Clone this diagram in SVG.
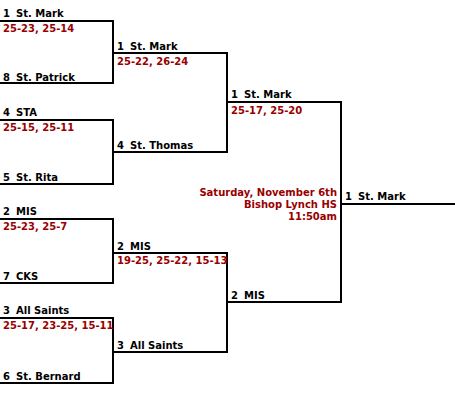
<svg xmlns="http://www.w3.org/2000/svg" width="455" height="405" viewBox="0 0 455 405">
<style>
text{font-family:"DejaVu Sans",Verdana,sans-serif;font-size:10px;font-weight:bold;fill:#000}
.s{fill:#990000}
.d{fill:#990000;text-anchor:end}
.c{fill:none;stroke:#000;stroke-width:2}
</style>
<rect width="455" height="405" fill="#fff"/>
<g id="connectors" class="c">
<path d="M0,21H113V83H0"/>
<path d="M0,120H113V184H0"/>
<path d="M0,219H113V283H0"/>
<path d="M0,318H113V383H0"/>
<path d="M113,53H227V152H113"/>
<path d="M113,253H227V352H113"/>
<path d="M227,102H341V302H227"/>
<path d="M341,204H455"/>
</g>
<g id="m1">
<text y="17"><tspan x="3">1</tspan><tspan x="16">St. Mark</tspan></text>
<text class="s" x="3" y="32">25-23, 25-14</text>
<text y="81"><tspan x="3">8</tspan><tspan x="16">St. Patrick</tspan></text>
</g>
<g id="m2">
<text y="116"><tspan x="3">4</tspan><tspan x="16">STA</tspan></text>
<text class="s" x="3" y="131">25-15, 25-11</text>
<text y="181"><tspan x="3">5</tspan><tspan x="16">St. Rita</tspan></text>
</g>
<g id="m3">
<text y="215"><tspan x="3">2</tspan><tspan x="16">MIS</tspan></text>
<text class="s" x="3" y="230">25-23, 25-7</text>
<text y="280"><tspan x="3">7</tspan><tspan x="16">CKS</tspan></text>
</g>
<g id="m4">
<text y="314"><tspan x="3">3</tspan><tspan x="16">All Saints</tspan></text>
<text class="s" x="3" y="329">25-17, 23-25, 15-11</text>
<text y="380"><tspan x="3">6</tspan><tspan x="16">St. Bernard</tspan></text>
</g>
<g id="m5">
<text y="50"><tspan x="117">1</tspan><tspan x="130">St. Mark</tspan></text>
<text class="s" x="117" y="65">25-22, 26-24</text>
<text y="149"><tspan x="117">4</tspan><tspan x="130">St. Thomas</tspan></text>
</g>
<g id="m6">
<text y="250"><tspan x="117">2</tspan><tspan x="130">MIS</tspan></text>
<text class="s" x="117" y="264">19-25, 25-22, 15-13</text>
<text y="349"><tspan x="117">3</tspan><tspan x="130">All Saints</tspan></text>
</g>
<g id="m7">
<text y="98"><tspan x="231">1</tspan><tspan x="244">St. Mark</tspan></text>
<text class="s" x="231" y="114">25-17, 25-20</text>
<text y="299"><tspan x="231">2</tspan><tspan x="244">MIS</tspan></text>
</g>
<g id="info">
<text class="d" x="337" y="196">Saturday, November 6th</text>
<text class="d" x="337" y="208">Bishop Lynch HS</text>
<text class="d" x="337" y="220">11:50am</text>
</g>
<g id="champion">
<text y="200"><tspan x="345">1</tspan><tspan x="358">St. Mark</tspan></text>
</g>
</svg>
